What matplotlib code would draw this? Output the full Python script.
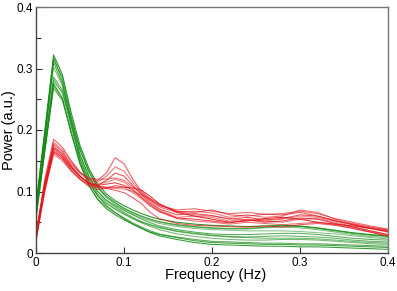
import matplotlib
matplotlib.use("Agg")
import matplotlib.pyplot as plt
from matplotlib.ticker import MultipleLocator, FuncFormatter

freq = [0, .01, .02, .03, .04, .05, .06, .07, .08, .09, .10, .11, .12, .13, .14,
        .16, .18, .20, .22, .24, .26, .28, .30, .32, .34, .36, .38, .40]

green_1 = [0.08, 0.20, 0.322, 0.29, 0.228, 0.175, 0.138, 0.112, 0.096, 0.085, 0.077, 0.07, 0.064, 0.059, 0.055, 0.05, 0.047, 0.045, 0.044, 0.043, 0.044, 0.045, 0.044, 0.041, 0.037, 0.033, 0.03, 0.028]
green_2 = [0.07, 0.19, 0.318, 0.28, 0.215, 0.16, 0.125, 0.10, 0.085, 0.075, 0.066, 0.058, 0.051, 0.046, 0.042, 0.036, 0.032, 0.029, 0.027, 0.026, 0.027, 0.028, 0.027, 0.026, 0.024, 0.021, 0.019, 0.018]
green_3 = [0.065, 0.185, 0.31, 0.275, 0.21, 0.152, 0.117, 0.093, 0.077, 0.066, 0.056, 0.047, 0.04, 0.034, 0.03, 0.025, 0.02, 0.017, 0.016, 0.015, 0.014, 0.014, 0.013, 0.013, 0.012, 0.011, 0.01, 0.009]
green_4 = [0.075, 0.19, 0.302, 0.272, 0.218, 0.17, 0.134, 0.108, 0.092, 0.081, 0.072, 0.065, 0.059, 0.054, 0.05, 0.045, 0.042, 0.04, 0.039, 0.039, 0.041, 0.042, 0.041, 0.038, 0.034, 0.03, 0.027, 0.025]
green_5 = [0.07, 0.18, 0.286, 0.265, 0.21, 0.16, 0.125, 0.10, 0.086, 0.077, 0.069, 0.062, 0.055, 0.049, 0.044, 0.038, 0.034, 0.031, 0.03, 0.03, 0.031, 0.032, 0.032, 0.03, 0.027, 0.024, 0.022, 0.021]
green_6 = [0.06, 0.17, 0.282, 0.26, 0.205, 0.155, 0.12, 0.096, 0.082, 0.072, 0.064, 0.056, 0.049, 0.043, 0.038, 0.031, 0.027, 0.024, 0.022, 0.021, 0.021, 0.022, 0.022, 0.021, 0.019, 0.017, 0.015, 0.014]
green_7 = [0.065, 0.175, 0.278, 0.262, 0.215, 0.168, 0.132, 0.106, 0.09, 0.079, 0.07, 0.063, 0.057, 0.052, 0.048, 0.043, 0.04, 0.038, 0.037, 0.036, 0.036, 0.036, 0.035, 0.033, 0.031, 0.028, 0.025, 0.023]
green_8 = [0.055, 0.165, 0.275, 0.252, 0.195, 0.145, 0.11, 0.087, 0.072, 0.062, 0.054, 0.047, 0.04, 0.033, 0.028, 0.022, 0.017, 0.014, 0.013, 0.012, 0.011, 0.011, 0.01, 0.01, 0.009, 0.008, 0.007, 0.006]
green_9 = [0.07, 0.17, 0.272, 0.25, 0.198, 0.148, 0.114, 0.093, 0.08, 0.071, 0.063, 0.056, 0.05, 0.045, 0.041, 0.035, 0.031, 0.028, 0.026, 0.025, 0.024, 0.024, 0.024, 0.023, 0.021, 0.019, 0.017, 0.016]
green_10 = [0.06, 0.165, 0.268, 0.248, 0.195, 0.145, 0.11, 0.088, 0.075, 0.065, 0.057, 0.049, 0.042, 0.036, 0.031, 0.026, 0.022, 0.019, 0.018, 0.017, 0.016, 0.016, 0.015, 0.015, 0.014, 0.013, 0.012, 0.011]
green_11 = [0.075, 0.195, 0.315, 0.285, 0.222, 0.168, 0.132, 0.107, 0.092, 0.082, 0.073, 0.066, 0.06, 0.055, 0.051, 0.046, 0.043, 0.041, 0.04, 0.04, 0.042, 0.044, 0.043, 0.04, 0.036, 0.032, 0.029, 0.027]

red_1 = [0.03, 0.12, 0.185, 0.172, 0.15, 0.132, 0.12, 0.118, 0.13, 0.155, 0.145, 0.12, 0.10, 0.088, 0.078, 0.068, 0.066, 0.07, 0.062, 0.06, 0.063, 0.062, 0.066, 0.06, 0.052, 0.046, 0.04, 0.035]
red_2 = [0.025, 0.115, 0.18, 0.168, 0.148, 0.13, 0.118, 0.115, 0.125, 0.14, 0.133, 0.115, 0.098, 0.085, 0.075, 0.066, 0.068, 0.065, 0.058, 0.062, 0.058, 0.06, 0.07, 0.066, 0.055, 0.048, 0.042, 0.037]
red_3 = [0.02, 0.11, 0.177, 0.165, 0.142, 0.125, 0.113, 0.11, 0.118, 0.13, 0.125, 0.11, 0.095, 0.082, 0.072, 0.062, 0.064, 0.061, 0.055, 0.058, 0.054, 0.056, 0.062, 0.06, 0.053, 0.046, 0.04, 0.034]
red_4 = [0.035, 0.115, 0.174, 0.16, 0.14, 0.124, 0.115, 0.112, 0.115, 0.12, 0.115, 0.104, 0.092, 0.08, 0.07, 0.058, 0.06, 0.058, 0.052, 0.055, 0.052, 0.05, 0.055, 0.056, 0.05, 0.043, 0.036, 0.03]
red_5 = [0.03, 0.11, 0.17, 0.158, 0.14, 0.125, 0.113, 0.108, 0.107, 0.107, 0.107, 0.106, 0.102, 0.092, 0.08, 0.066, 0.06, 0.055, 0.05, 0.052, 0.056, 0.058, 0.055, 0.05, 0.047, 0.044, 0.04, 0.036]
red_6 = [0.02, 0.10, 0.167, 0.155, 0.135, 0.12, 0.108, 0.103, 0.105, 0.11, 0.107, 0.098, 0.088, 0.076, 0.067, 0.056, 0.052, 0.05, 0.047, 0.05, 0.048, 0.046, 0.048, 0.05, 0.046, 0.04, 0.034, 0.028]
red_7 = [0.03, 0.105, 0.163, 0.152, 0.134, 0.12, 0.11, 0.106, 0.105, 0.102, 0.098, 0.09, 0.08, 0.066, 0.056, 0.048, 0.045, 0.044, 0.043, 0.042, 0.044, 0.042, 0.046, 0.048, 0.045, 0.04, 0.034, 0.027]
red_8 = [0.025, 0.10, 0.16, 0.15, 0.133, 0.12, 0.112, 0.108, 0.106, 0.105, 0.104, 0.10, 0.094, 0.088, 0.08, 0.068, 0.062, 0.06, 0.056, 0.053, 0.052, 0.055, 0.06, 0.058, 0.052, 0.047, 0.042, 0.038]
red_9 = [0.03, 0.112, 0.172, 0.162, 0.145, 0.13, 0.122, 0.12, 0.12, 0.122, 0.118, 0.108, 0.096, 0.086, 0.077, 0.07, 0.072, 0.068, 0.064, 0.066, 0.063, 0.064, 0.068, 0.064, 0.056, 0.05, 0.044, 0.039]
red_10 = [0.02, 0.105, 0.165, 0.155, 0.138, 0.123, 0.114, 0.11, 0.112, 0.114, 0.11, 0.102, 0.09, 0.078, 0.068, 0.057, 0.055, 0.052, 0.049, 0.054, 0.05, 0.052, 0.057, 0.055, 0.048, 0.042, 0.036, 0.03]

green_series = [green_1, green_2, green_3, green_4, green_5, green_6,
                green_7, green_8, green_9, green_10, green_11]
red_series = [red_1, red_2, red_3, red_4, red_5, red_6, red_7, red_8, red_9, red_10]

x_ticks = [0, 0.1, 0.2, 0.3, 0.4]
y_ticks = [0, 0.1, 0.2, 0.3, 0.4]

plt.rcParams['font.family'] = ['Liberation Sans', 'DejaVu Sans']

fig = plt.figure(figsize=(3.97, 2.91), dpi=100)
ax = fig.add_axes([36/397, 1 - 253/291, 352/397, 246/291])

green_alphas = [0.9, 0.65, 0.8, 0.55, 0.7, 0.6, 0.5, 0.85, 0.6, 0.7, 0.75]
red_alphas = [0.7, 0.6, 0.75, 0.55, 0.9, 0.6, 0.7, 0.5, 0.65, 0.8]

for s, a in zip(green_series, green_alphas):
    ax.plot(freq, s, color='#108a10', lw=0.75, alpha=a)
for s, a in zip(red_series, red_alphas):
    ax.plot(freq, s, color='#e4141a', lw=0.75, alpha=a)

ax.set_xlim(0, 0.4)
ax.set_ylim(0, 0.4)
ax.set_xticks(x_ticks)
ax.set_yticks(y_ticks)
fmt = FuncFormatter(lambda v, p: '0' if abs(v) < 1e-9 else f'{v:.1f}')
ax.xaxis.set_major_formatter(fmt)
ax.yaxis.set_major_formatter(fmt)
ax.yaxis.set_minor_locator(MultipleLocator(0.05))
ax.tick_params(which='both', direction='in', labelsize=8.5, colors='#333333',
               labelcolor='black', width=0.8)
ax.tick_params(which='major', length=4.5, pad=2)
ax.tick_params(which='minor', length=3.5)
ax.tick_params(axis='x', pad=3)

for sp in ax.spines.values():
    sp.set_color('#777777')
    sp.set_linewidth(1.0)
ax.spines['left'].set_color('#444444')
ax.spines['bottom'].set_color('#444444')

ax.set_xlabel('Frequency (Hz)', fontsize=10.5)
ax.set_ylabel('Power (a.u.)', fontsize=10.5)
ax.yaxis.set_label_coords(-0.058, 0.5)
ax.xaxis.set_label_coords(0.51, -0.06)

fig.savefig('out.png', dpi=100)
